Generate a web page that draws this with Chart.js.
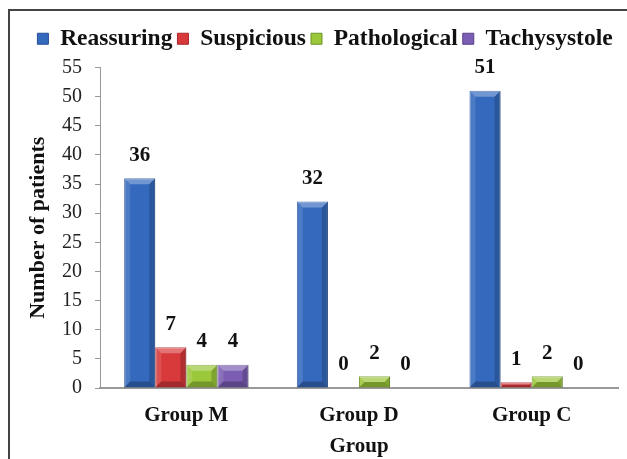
<!DOCTYPE html>
<html>
<head>
<meta charset="utf-8">
<script src="https://cdn.jsdelivr.net/npm/chart.js@4.4.1/dist/chart.umd.min.js"></script>
<style>
  html, body { margin: 0; padding: 0; background: #fff; }
  #wrap { position: relative; width: 627px; height: 459px; overflow: hidden; }
  #frame { position: absolute; left: 8px; top: 9px; width: 700px; height: 500px;
           border-left: 2px solid #444; border-top: 2px solid #444; box-sizing: border-box; }
  canvas { position: absolute; left: 0; top: 0; }
</style>
</head>
<body>
<div id="wrap">
  <div id="frame"></div>
  <canvas id="chart" width="627" height="459"></canvas>
</div>
<script>
// Data
const groups = ['Group M', 'Group D', 'Group C'];
const reassuring = [36, 32, 51];
const suspicious = [7, 0, 1];
const pathological = [4, 2, 2];
const tachysystole = [4, 0, 0];
const yTicks = [0, 5, 10, 15, 20, 25, 30, 35, 40, 45, 50, 55];

const SERIF = '"Liberation Serif", "Times New Roman", serif';

// a bit more room between legend and plot, and nudge legend right
const legendTweak = {
  id: 'legendTweak',
  beforeInit(chart) {
    const fit = chart.legend.fit;
    chart.legend.fit = function () {
      fit.bind(chart.legend)();
      this.height += 7;
    };
  },
  afterLayout(chart) {
    chart.legend.left += 11;
    chart.legend.right += 11;
  }
};

// 3D bevel look on each bar
const bevelPlugin = {
  id: 'bevel',
  afterDatasetsDraw(chart) {
    const ctx = chart.ctx;
    chart.data.datasets.forEach((ds, i) => {
      const meta = chart.getDatasetMeta(i);
      meta.data.forEach(bar => {
        const h = bar.base - bar.y;
        if (h <= 0.5) return;
        const l = bar.x - bar.width / 2, r = bar.x + bar.width / 2;
        const t = bar.y, b = bar.base;
        const d = Math.min(6, h / 2);
        ctx.save();
        // left side light
        ctx.fillStyle = 'rgba(255,255,255,0.12)';
        ctx.beginPath();
        ctx.moveTo(l, t); ctx.lineTo(l + d, t + d); ctx.lineTo(l + d, b - d); ctx.lineTo(l, b);
        ctx.fill();
        // right side dark
        ctx.fillStyle = 'rgba(0,0,0,0.18)';
        ctx.beginPath();
        ctx.moveTo(r, t); ctx.lineTo(r - d, t + d); ctx.lineTo(r - d, b - d); ctx.lineTo(r, b);
        ctx.fill();
        // top bevel
        ctx.fillStyle = 'rgba(255,255,255,0.3)';
        ctx.beginPath();
        ctx.moveTo(l, t); ctx.lineTo(r, t); ctx.lineTo(r - d, t + d); ctx.lineTo(l + d, t + d);
        ctx.fill();
        // bottom bevel
        ctx.fillStyle = 'rgba(0,0,0,0.25)';
        ctx.beginPath();
        ctx.moveTo(l, b); ctx.lineTo(r, b); ctx.lineTo(r - d, b - d); ctx.lineTo(l + d, b - d);
        ctx.fill();
        ctx.restore();
      });
    });
  }
};

// value labels above bars
const valueLabels = {
  id: 'valueLabels',
  afterDatasetsDraw(chart) {
    const ctx = chart.ctx;
    ctx.save();
    ctx.font = 'bold 21px ' + SERIF;
    ctx.fillStyle = '#111';
    ctx.textAlign = 'center';
    ctx.textBaseline = 'middle';
    chart.data.datasets.forEach((ds, i) => {
      chart.getDatasetMeta(i).data.forEach((bar, j) => {
        ctx.fillText(ds.data[j], bar.x, bar.y - 23);
      });
    });
    ctx.restore();
  }
};

function mkSet(label, data, color, border) {
  return { label, data, backgroundColor: color, borderColor: border, borderWidth: 1 };
}

new Chart(document.getElementById('chart'), {
  type: 'bar',
  data: {
    labels: groups,
    datasets: [
      mkSet('Reassuring', reassuring, '#3469bd', '#244f94'),
      mkSet('Suspicious', suspicious, '#d8393b', '#a82628'),
      mkSet('Pathological', pathological, '#9bc83a', '#6e9524'),
      mkSet('Tachysystole', tachysystole, '#7b5db3', '#5a428a'),
    ],
  },
  options: {
    responsive: false,
    animation: false,
    categoryPercentage: 0.72,
    barPercentage: 1.0,
    layout: { padding: { top: 22, left: 10, right: 9, bottom: 0 } },
    plugins: {
      legend: {
        position: 'top',
        labels: {
          color: '#111',
          boxWidth: 11,
          boxHeight: 11,
          padding: 5,
          font: { family: SERIF, size: 23.5, weight: 'bold' },
        },
      },
      tooltip: { enabled: false },
    },
    scales: {
      x: {
        grid: { display: false },
        border: { display: true, color: '#999', width: 2 },
        ticks: { color: '#111', padding: 7, font: { family: SERIF, size: 21, weight: 'bold' } },
        title: { display: true, text: 'Group', color: '#111', padding: { top: 0, bottom: 0 },
                 font: { family: SERIF, size: 21, weight: 'bold' } },
        afterFit(scale) { scale.height = 71; },
      },
      y: {
        min: 0,
        max: 55,
        afterBuildTicks(scale) { scale.ticks = yTicks.map(v => ({ value: v })); },
        grid: { drawOnChartArea: false, drawTicks: true, tickLength: 5, color: '#999' },
        border: { display: true, color: '#999', width: 1 },
        ticks: { color: '#222', padding: 13, font: { family: SERIF, size: 20 } },
        title: { display: true, text: 'Number of patients', color: '#111', padding: { top: 15, bottom: 0 },
                 font: { family: SERIF, size: 22, weight: 'bold' } },
        afterFit(scale) { scale.width = 90; },
      },
    },
  },
  plugins: [legendTweak, bevelPlugin, valueLabels],
});
</script>
</body>
</html>
